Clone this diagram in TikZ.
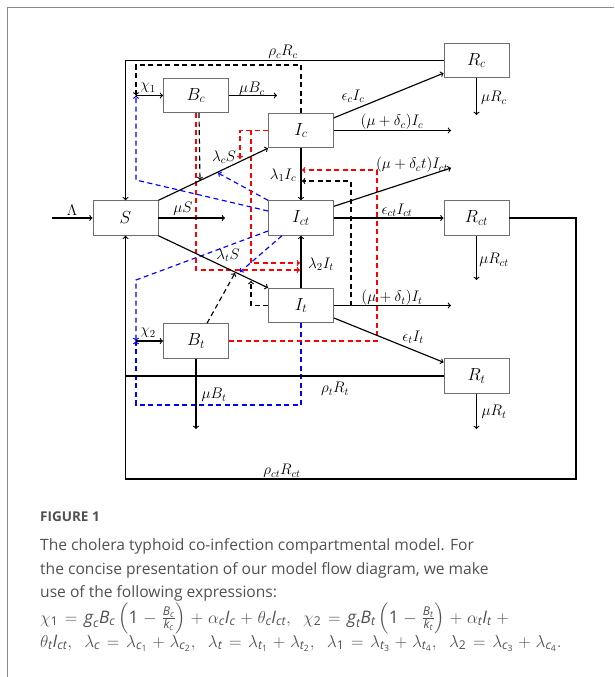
\RequirePackage{fix-cm}
\documentclass[tikz,border=0pt]{standalone}
\usepackage{amsmath}
\usepackage{fontspec}
\newfontfamily\capfont{Open Sans}
\usetikzlibrary{calc}
\definecolor{capgrey}{HTML}{505050}
\definecolor{boxgrey}{HTML}{6E6E6E}
\definecolor{framegrey}{HTML}{8A8A8A}
\newcommand{\si}[1]{\text{\capfont\itshape #1}}
\newcommand{\sn}[1]{\text{\capfont #1}}
\newcommand{\csp}{,\hspace{0.55em}}
\newcommand{\capsp}{\thickmuskip=7mu plus 2mu\medmuskip=5mu plus 2mu}
\begin{document}
\begin{tikzpicture}[x=1pt,y=-1pt,>=to,
  box/.style={draw=boxgrey,line width=0.9pt,fill=white,minimum width=65pt,minimum height=34.5pt,inner sep=0pt,font=\fontsize{17.5}{20}\selectfont},
  conn/.style={line width=1.15pt,->},
  ln/.style={line width=1.15pt},
  lbl/.style={inner sep=0pt,font=\fontsize{15.3}{17}\selectfont},
  bd/.style={line width=1.15pt,dash pattern=on 5pt off 3.5pt},
  rd/.style={bd,red},
  bl/.style={bd,blue},
  captext/.style={inner sep=0pt,anchor=base west,text=capgrey,font=\capfont\fontsize{15.6}{20}\selectfont},
  capmath/.style={captext,font=\capfont\fontsize{17.3}{20}\selectfont}]
\useasboundingbox (0,0) rectangle (614,677);
% frame
\draw[framegrey,line width=0.9pt] (7,677) -- (7,7) -- (614,7);

% boxes
\node[box] (S)   at (125.5,218)   {$S$};
\node[box] (Bc)  at (196,95.5)    {$B_c$};
\node[box] (Ic)  at (301,130.5)   {$I_c$};
\node[box] (Ict) at (301,218)     {$I_{ct}$};
\node[box] (It)  at (301,305.5)   {$I_t$};
\node[box] (Bt)  at (196,341)     {$B_t$};
\node[box] (Rc)  at (476.5,60.5)  {$R_c$};
\node[box] (Rct) at (476.5,218)   {$R_{ct}$};
\node[box] (Rt)  at (476.5,376)   {$R_t$};

% coordinates
\coordinate (Lam) at (52,218);
\coordinate (muS) at (225,218);
\coordinate (X1) at (136,95.5);
\coordinate (X2) at (136,341);
\coordinate (muBc) at (277,95.5);
\coordinate (muBt) at (196,429);
\coordinate (mdc) at (451,130.5);
\coordinate (mdct) at (451,168);
\coordinate (mdt) at (451,305.5);
\coordinate (muRc) at (476.5,115);
\coordinate (muRct) at (476.5,280);
\coordinate (muRt) at (476.5,429);
\coordinate (br) at (576,479);
\coordinate (tl) at (136,65);
\coordinate (b1) at (136,180);
\coordinate (b2) at (136,280);
\coordinate (b3) at (136,405);
\coordinate (bA) at (218,173);
\coordinate (bB) at (240,272);
\coordinate (r1) at (300,270);
\coordinate (r2) at (240,159);
\coordinate (r3a) at (251,263);
\coordinate (r3) at (300,263);
\coordinate (r4) at (377,170);
\coordinate (r5) at (302,170);
\coordinate (k1) at (200,180);
\coordinate (k3a) at (351,181);
\coordinate (k3) at (302,181);
\coordinate (k4) at (235,273);
\coordinate (k5) at (251,281);

% dashed influence lines
\draw[bd,->] (Ic.north) |- (tl) -- (X1);
\draw[bl,->] ([yshift=7pt]Ict.west) -- (b1) -- (X1);
\draw[bl,->] (Ict.north west) -- (bA);
\draw[bl,->] ([yshift=-13pt]Ict.west) -- (b2) -- (X2);
\draw[bl,->] ([xshift=-19pt]Ict.south) -- (bB);
\draw[bl,->] (It.south) |- (b3) -- (X2);
\draw[rd,->] (Bc.south) |- (r1);
\draw[rd,->] (Ic.west) -| (r2);
\draw[rd,->] (Ic.west) -| (r3a) -- (r3);
\draw[rd,->] (Bt.east) -| (r4) -- (r5);
\draw[bd,->] ([xshift=3pt]Bc.south) -- (k1);
\draw[bd,->] (It.east) -| (k3a) -- (k3);
\draw[bd,->] ([xshift=11pt]Bt.north) -- (k4);
\draw[bd,->] (It.west) -| (k5);

% solid flows
\draw[conn] (Lam) -- (S.west);
\draw[conn] (S.east) -- (muS);
\draw[conn] (S.north east) -- (Ic.south west);
\draw[conn] (S.south east) -- (It.north west);
\draw[conn] (X1) -- (Bc.west);
\draw[conn] (Bc.east) -- (muBc);
\draw[conn] (X2) -- (Bt.west);
\draw[conn] (Bt.south) -- (muBt);
\draw[conn] (Ic.south) -- (Ict.north);
\draw[conn] (It.north) -- (Ict.south);
\draw[conn] ([yshift=-5pt]Ic.north east) -- ([yshift=5pt]Rc.south west);
\draw[conn] (Ic.east) -- (mdc);
\draw[conn] ([yshift=-6pt]Ict.north east) -- (mdct);
\draw[conn] (Ict.east) -- (Rct.west);
\draw[conn] (It.east) -- (mdt);
\draw[conn] ([yshift=-12.5pt]It.east) -- ([yshift=-4pt]Rt.north west);
\draw[conn] (Rc.south) -- (muRc);
\draw[conn] (Rct.south) -- (muRct);
\draw[conn] (Rt.south) -- (muRt);
\draw[conn] (Rc.west) -| (S.north);
\draw[conn] (Rct.east) -| (br) -| (S.south);
\draw[ln] (Rt.west) -- (Rt.west -| S.south);

% labels
\node[lbl] (lLam) at (72,210) {$\Lambda$};
\node[lbl] (lmuS) at (183,209) {$\mu S$};
\node[lbl] (llcS) at (224,157) {$\lambda_c S$};
\node[lbl] (lltS) at (228,255) {$\lambda_t S$};
\node[lbl] (lchi1) at (148,88) {$\chi_1$};
\node[lbl] (lchi2) at (148,333) {$\chi_2$};
\node[lbl] (lmuBc) at (252,89) {$\mu B_c$};
\node[lbl] (lrhoc) at (283,52) {$\rho_c R_c$};
\node[lbl] (ll1) at (283,175) {$\lambda_1 I_c$};
\node[lbl] (ll2) at (321,264) {$\lambda_2 I_t$};
\node[lbl] (lec) at (353,96) {$\epsilon_c I_c$};
\node[lbl] (lmdc) at (392,122) {$(\mu+\delta_c)I_c$};
\node[lbl] (lmdct) at (412,165) {$(\mu+\delta_c t)I_{ct}$};
\node[lbl] (lect) at (397,210) {$\epsilon_{ct} I_{ct}$};
\node[lbl] (lmdt) at (392,298) {$(\mu+\delta_t)I_t$};
\node[lbl] (let) at (413,337) {$\epsilon_t I_t$};
\node[lbl] (lmuRc) at (494,98) {$\mu R_c$};
\node[lbl] (lmuRct) at (494,260) {$\mu R_{ct}$};
\node[lbl] (lmuRt) at (494,412) {$\mu R_t$};
\node[lbl] (lmuBt) at (214,395) {$\mu B_t$};
\node[lbl] (lrhot) at (335,389) {$\rho_t R_t$};
\node[lbl] (lrhoct) at (282,471) {$\rho_{ct} R_{ct}$};

% caption
\node[captext,font=\capfont\bfseries\fontsize{13.5}{16}\selectfont] (fig) at (40,521) {FIGURE 1};
\node[captext] (c1) at (40,550) {The cholera typhoid co-infection compartmental model. For};
\node[captext] (c2) at (40,574) {the concise presentation of our model flow diagram, we make};
\node[captext] (c3) at (40,597) {use of the following expressions:};
\node[capmath] (c4) at (40,623) {$\capsp\chi_{\sn{1}}=\si{g}_{\si{c}}\si{B}_{\si{c}}\,\smash{\left(\sn{1}-\frac{\si{B}_{\si{c}}}{\si{k}_{\si{c}}}\right)}+\alpha_{\si{c}}\si{I}_{\si{c}}+\theta_{\si{c}}\si{I}_{\si{ct}}\csp\chi_{\sn{2}}=\si{g}_{\si{t}}\si{B}_{\si{t}}\,\smash{\left(\sn{1}-\frac{\si{B}_{\si{t}}}{\si{k}_{\si{t}}}\right)}+\alpha_{\si{t}}\si{I}_{\si{t}}\mathbin{+}{}$};
\node[capmath] (c5) at (40,647) {$\capsp\theta_{\si{t}}\si{I}_{\si{ct}}\csp\lambda_{\si{c}}=\lambda_{\si{c}_{\sn{1}}}+\lambda_{\si{c}_{\sn{2}}}\csp\lambda_{\si{t}}=\lambda_{\si{t}_{\sn{1}}}+\lambda_{\si{t}_{\sn{2}}}\csp\lambda_{\sn{1}}=\lambda_{\si{t}_{\sn{3}}}+\lambda_{\si{t}_{\sn{4}}}\csp\lambda_{\sn{2}}=\lambda_{\si{c}_{\sn{3}}}+\lambda_{\si{c}_{\sn{4}}}.$};
\end{tikzpicture}
\end{document}
